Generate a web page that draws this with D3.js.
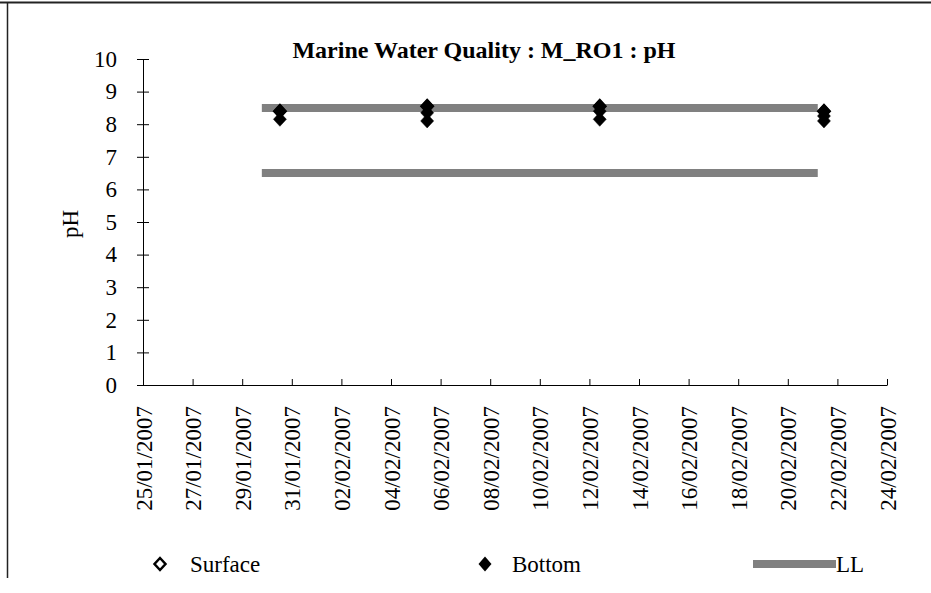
<!DOCTYPE html>
<html><head><meta charset="utf-8">
<script src="https://cdn.jsdelivr.net/npm/d3@7"></script>
<style>html,body{margin:0;padding:0;background:#fff;}svg{display:block;}</style>
</head><body>
<script>
const title = "Marine Water Quality : M_RO1 : pH";
const yLabel = "pH";
const xTickDates = ["2007-01-25","2007-01-27","2007-01-29","2007-01-31","2007-02-02","2007-02-04","2007-02-06","2007-02-08","2007-02-10","2007-02-12","2007-02-14","2007-02-16","2007-02-18","2007-02-20","2007-02-22","2007-02-24"];
const yTicks = [0,1,2,3,4,5,6,7,8,9,10];
const sampleDates = ["2007-01-30T12:30","2007-02-05T11:00","2007-02-12T10:00","2007-02-21T11:00"];
const surfaceValues = [8.4, 8.55, 8.55, 8.4];
const bottomValues = [[8.4, 8.15],[8.55, 8.35, 8.1],[8.55, 8.4, 8.15],[8.4, 8.25, 8.1]];
const limitDates = ["2007-01-29T19:00","2007-02-21T05:00"];
const upperLimit = 8.5;
const lowerLimit = 6.5;
const legendNames = ["Surface","Bottom","LL"];

const W = 931, H = 593;
const svg = d3.select("body").append("svg").attr("width", W).attr("height", H);
const font = "'Liberation Serif', 'Times New Roman', serif";
const parse = s => new Date(s);

// frame
svg.append("line").attr("x1",0).attr("x2",W).attr("y1",2.5).attr("y2",2.5).attr("stroke","#222").attr("stroke-width",2);
svg.append("line").attr("x1",7.5).attr("x2",7.5).attr("y1",2).attr("y2",578).attr("stroke","#222").attr("stroke-width",1.5);

const x = d3.scaleTime().domain([parse(xTickDates[0]), parse(xTickDates[xTickDates.length-1])]).range([143, 887]);
const y = d3.scaleLinear().domain([0, 10]).range([385, 59]);

// title
svg.append("text").attr("x", 484).attr("y", 58).attr("text-anchor","middle")
  .attr("font-family", font).attr("font-weight","bold").attr("font-size", 24).text(title);

// y axis
const yAxis = d3.axisLeft(y).tickValues(yTicks).tickSizeInner(6).tickSizeOuter(0).tickFormat(d3.format("d"));
const gy = svg.append("g").attr("transform","translate(143,0)").call(yAxis);
gy.select(".domain").attr("stroke","#000");
gy.selectAll(".tick line").attr("x1",-6).attr("x2",6).attr("stroke","#000");
gy.selectAll(".tick text").attr("x",-26).attr("font-family",font).attr("font-size",23).attr("fill","#000");

// x axis
const xAxis = d3.axisBottom(x).tickValues(xTickDates.map(parse)).tickSizeInner(-6).tickSizeOuter(0).tickFormat(d3.timeFormat("%d/%m/%Y"));
const gx = svg.append("g").attr("transform","translate(0,385)").call(xAxis);
gx.select(".domain").attr("stroke","#000");
gx.selectAll(".tick line").attr("stroke","#000");
gx.selectAll(".tick text").attr("font-family",font).attr("font-size",23).attr("fill","#000")
  .attr("text-anchor","end").attr("transform","translate(0,21) rotate(-90)").attr("x",0).attr("y",0).attr("dy","0.35em");

// y label
svg.append("text").attr("transform","translate(70,224) rotate(-90)").attr("text-anchor","middle")
  .attr("dy","0.35em").attr("font-family",font).attr("font-size",23).text(yLabel);

// limit lines
const lim = d3.line().x(d => x(parse(d[0]))).y(d => y(d[1]));
[upperLimit, lowerLimit].forEach(v => {
  svg.append("path").attr("d", lim(limitDates.map(dd => [dd, v]))).attr("stroke","#808080").attr("stroke-width",8).attr("fill","none");
});

const diamond = (cx, cy, hw, hh) => `M${cx},${cy-hh}L${cx+hw},${cy}L${cx},${cy+hh}L${cx-hw},${cy}Z`;

// surface points
svg.append("g").selectAll("path").data(sampleDates.map((d,i)=>[d, surfaceValues[i]])).join("path")
  .attr("d", d => diamond(x(parse(d[0])), y(d[1]), 6, 6.5)).attr("fill","#fff").attr("stroke","#000").attr("stroke-width",2);
// bottom points
const bottomPts = [];
sampleDates.forEach((d,i) => bottomValues[i].forEach(v => bottomPts.push([d, v])));
svg.append("g").selectAll("path").data(bottomPts).join("path")
  .attr("d", d => diamond(x(parse(d[0])), y(d[1]), 6.5, 7)).attr("fill","#000").attr("stroke","#000").attr("stroke-width",0.5);

// legend
const ly = 564;
svg.append("path").attr("d", diamond(160, ly, 5.5, 6)).attr("fill","#fff").attr("stroke","#000").attr("stroke-width",2.5);
svg.append("text").attr("x",190).attr("y",ly).attr("dy","0.35em").attr("font-family",font).attr("font-size",23).text(legendNames[0]);
svg.append("path").attr("d", diamond(485, ly, 6.5, 7.5)).attr("fill","#000");
svg.append("text").attr("x",512).attr("y",ly).attr("dy","0.35em").attr("font-family",font).attr("font-size",23).text(legendNames[1]);
svg.append("line").attr("x1",753).attr("x2",836).attr("y1",ly).attr("y2",ly).attr("stroke","#808080").attr("stroke-width",8);
svg.append("text").attr("x",836).attr("y",ly).attr("dy","0.35em").attr("font-family",font).attr("font-size",23).text(legendNames[2]);
</script>
</body></html>
